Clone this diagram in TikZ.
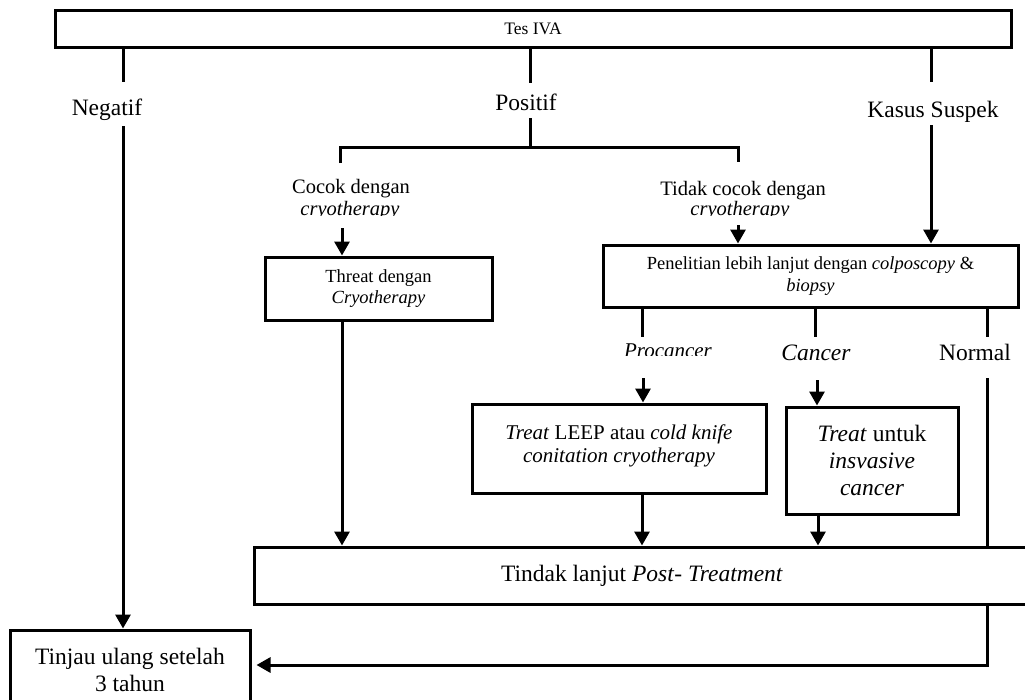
\documentclass[tikz,border=0pt]{standalone}
\usepackage{fontspec}
\setmainfont{Liberation Serif}
\usetikzlibrary{arrows.meta}

\tikzset{
  ln/.style={line width=3pt},
  arr/.style={ln, -{Triangle[length=14pt,width=15pt]}},
  box/.style={draw, line width=3pt, inner sep=0pt, align=center},
  lbl/.style={inner sep=0pt, anchor=base, align=center},
  fhead/.style={font=\fontsize{23.5}{27}\selectfont},
  fsub/.style={font=\fontsize{20.5}{22}\selectfont},
  fsmall/.style={font=\fontsize{18.5}{21.5}\selectfont},
}

\begin{document}
\begin{tikzpicture}[x=1pt, y=-1pt]
\useasboundingbox (0,0) rectangle (1025,699);

% boxes
\node[box, minimum width=956pt, minimum height=37pt, font=\fontsize{17.5}{19}\selectfont] (tes) at (533,28.5) {Tes IVA};
\node[box, fsmall, minimum width=227pt, minimum height=63pt] (threat) at (378.5,288.5) {Threat dengan\\\textit{Cryotherapy}};
\node[box, fsmall, minimum width=415pt, minimum height=62pt] (penel) at (810.5,276) {Penelitian lebih lanjut dengan \textit{colposcopy} \&\\[1pt]\textit{biopsy}};
\node[box, font=\fontsize{21}{23}\selectfont, minimum width=294pt, minimum height=89pt] (leep) at (619,448.5) {\textit{Treat} LEEP atau \textit{cold knife}\\\textit{conitation cryotherapy}\\[-13pt]\mbox{}};
\node[box, fhead, minimum width=172pt, minimum height=107pt] (canc) at (872,460.5) {\textit{Treat} untuk\\\textit{insvasive}\\\textit{cancer}};
\node[box, fhead, minimum width=776pt, minimum height=57pt] (tindak) at (642,575.5) {Tindak lanjut \textit{Post}- \textit{Treatment}};
\node[box, fhead, minimum width=240pt, minimum height=80pt] (tinjau) at (130,670) {Tinjau ulang setelah\\3 tahun};

% first-level labels
\node[lbl, fhead] (neg) at (107,115) {Negatif};
\node[lbl, fhead] (pos) at (526,110) {Positif};
\node[lbl, fhead] (kas) at (933,117) {Kasus Suspek};

% second-level labels (second line cut at its baseline)
\node[lbl, fsub] (cocok) at (351,193) {Cocok dengan};
\begin{scope}
  \clip (260,200) rectangle (450,215.5);
  \node[lbl, fsub] (cocokb) at (350,215) {\textit{cryotherapy}};
\end{scope}
\node[lbl, fsub] (tidak) at (743,195) {Tidak cocok dengan};
\begin{scope}
  \clip (650,200) rectangle (840,215.5);
  \node[lbl, fsub] (tidakb) at (740,215) {\textit{cryotherapy}};
\end{scope}

% outcome labels
\begin{scope}
  \clip (600,335) rectangle (740,355);
  \node[lbl, font=\fontsize{21}{23}\selectfont] (pro) at (668,357) {\textit{Procancer}};
\end{scope}
\node[lbl, fhead] (cal) at (816,360) {\textit{Cancer}};
\node[lbl, fhead] (nol) at (975,360) {Normal};

% free ends of the connectors
\coordinate (negx) at (123,82);
\coordinate (negy) at (123,126);
\coordinate (posa) at (530,83);
\coordinate (posb) at (530,118);
\coordinate (bar)  at (530,147);
\coordinate (cl)   at (340,163);
\coordinate (cr)   at (738,162);
\coordinate (kasx) at (931,82);
\coordinate (kasy) at (931,125);
\coordinate (cka)  at (342,228);
\coordinate (tka)  at (738,225);
\coordinate (prx)  at (642,337);
\coordinate (cax)  at (815,337);
\coordinate (nox)  at (987,337);
\coordinate (pra)  at (643,378);
\coordinate (caa)  at (817,380);
\coordinate (noa)  at (987,378);
\coordinate (thx)  at (342,320);
\coordinate (lpx)  at (642,493);
\coordinate (cnx)  at (818,514);
\coordinate (ret)  at (987,665);

% Tes IVA branches
\draw[ln] (tes.south -| negx) -- (negx);
\draw[ln] (tes.south -| posa) -- (posa);
\draw[ln] (tes.south -| kasx) -- (kasx);

% Negatif
\draw[arr] (negy) -- (tinjau.north -| negy);

% Positif split
\draw[ln] (posb) -- (bar);
\draw[ln, line join=miter] (cl) |- (bar) -| (cr);
\draw[arr] (cka) -- (threat.north -| cka);
\draw[arr] (tka) -- (penel.north -| tka);

% Kasus Suspek
\draw[arr] (kasy) -- (penel.north -| kasy);

% results of colposcopy
\draw[ln] (penel.south -| prx) -- (prx);
\draw[ln] (penel.south -| cax) -- (cax);
\draw[ln] (penel.south -| nox) -- (nox);
\draw[arr] (pra) -- (leep.north -| pra);
\draw[arr] (caa) -- (canc.north -| caa);
\draw[ln] (noa) -- (tindak.north -| noa);

% into follow-up
\draw[arr] (threat.south -| thx) -- (tindak.north -| thx);
\draw[arr] (leep.south -| lpx) -- (tindak.north -| lpx);
\draw[arr] (canc.south -| cnx) -- (tindak.north -| cnx);

% back to review
\draw[arr, line join=miter, shorten >=5pt] (tindak.south -| ret) -- (ret) -- (tinjau.east |- ret);
\end{tikzpicture}
\end{document}
